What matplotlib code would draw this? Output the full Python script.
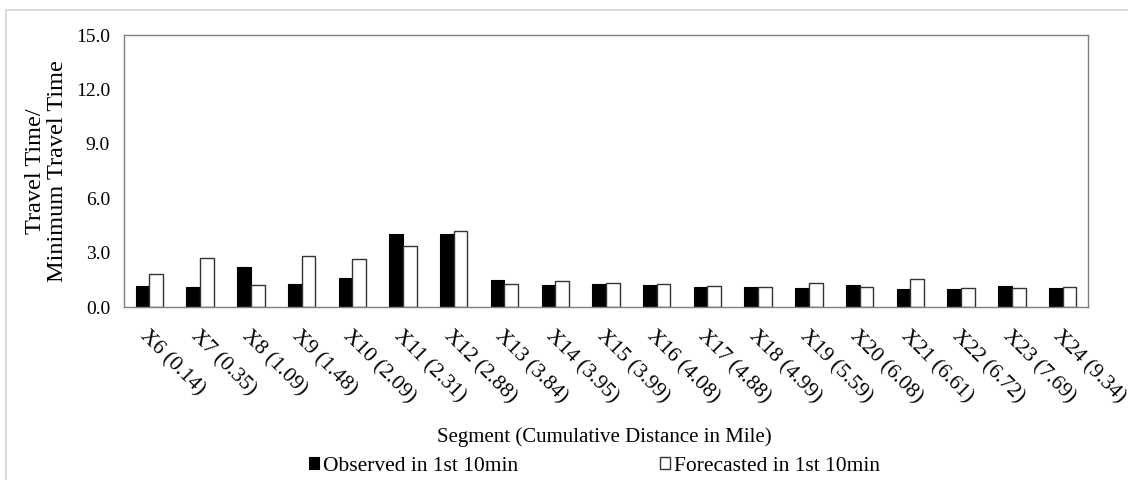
import numpy as np
import matplotlib.pyplot as plt
from matplotlib.lines import Line2D

plt.rcParams["font.family"] = ["Liberation Serif", "DejaVu Serif"]

segments = ["X6 (0.14)", "X7 (0.35)", "X8 (1.09)", "X9 (1.48)", "X10 (2.09)",
            "X11 (2.31)", "X12 (2.88)", "X13 (3.84)", "X14 (3.95)", "X15 (3.99)",
            "X16 (4.08)", "X17 (4.88)", "X18 (4.99)", "X19 (5.59)", "X20 (6.08)",
            "X21 (6.61)", "X22 (6.72)", "X23 (7.69)", "X24 (9.34)"]
observed = [1.14, 1.09, 2.23, 1.25, 1.60, 4.00, 4.00, 1.47, 1.22, 1.27,
            1.22, 1.11, 1.11, 1.05, 1.24, 1.02, 1.02, 1.18, 1.05]
forecasted = [1.80, 2.69, 1.23, 2.80, 2.63, 3.35, 4.18, 1.26, 1.41, 1.31,
              1.27, 1.16, 1.11, 1.33, 1.11, 1.57, 1.05, 1.05, 1.11]
yticks = [0, 3, 6, 9, 12, 15]

fig = plt.figure(figsize=(11.28, 4.8), dpi=100)
ax = fig.add_axes([0.1099, 0.3604, 0.8546, 0.5666])

x = np.arange(len(segments))
w = 0.27
ax.bar(x - w / 2, observed, w, color="black", edgecolor="black", linewidth=0.8,
       label="Observed in 1st 10min")
ax.bar(x + w / 2, forecasted, w, color="white", edgecolor="#333333", linewidth=1.0,
       label="Forecasted in 1st 10min")

ax.set_xlim(-0.5, len(segments) - 0.5)
ax.set_ylim(0, 15)
ax.set_yticks(yticks)
ax.set_yticklabels([f"{v:.1f}" for v in yticks], fontsize=14)
ax.set_xticks(x)
ax.set_xticklabels(segments, rotation=-45, ha="left", va="top",
                   rotation_mode="anchor", fontsize=15.5)
ax.tick_params(axis="y", length=0, pad=10)
ax.tick_params(axis="x", length=0, pad=14)
for sp in ax.spines.values():
    sp.set_color("#7f7f7f")
    sp.set_linewidth(1.0)

ax.set_ylabel("Travel Time/\nMinimum Travel Time", fontsize=17.5, linespacing=1.05)
ax.yaxis.set_label_coords(-0.058, 0.5)
fig.text(0.536, 0.0896, "Segment (Cumulative Distance in Mile)", ha="center",
         va="center", fontsize=15)

ax.legend(loc="center", bbox_to_anchor=(0.527, 0.029), bbox_transform=fig.transFigure,
          ncol=2, frameon=False, fontsize=15.5, handlelength=0.45, handleheight=0.45,
          handletextpad=0.2, columnspacing=6.6, borderpad=0)

# light chart-area border (top and left edges)
fig.lines.append(Line2D([6 / 1128, 6 / 1128, 1.0], [0.0, 1 - 10 / 480, 1 - 10 / 480],
                        transform=fig.transFigure, color="#d9d9d9", linewidth=1.5))

fig.savefig("out.png", dpi=100)
